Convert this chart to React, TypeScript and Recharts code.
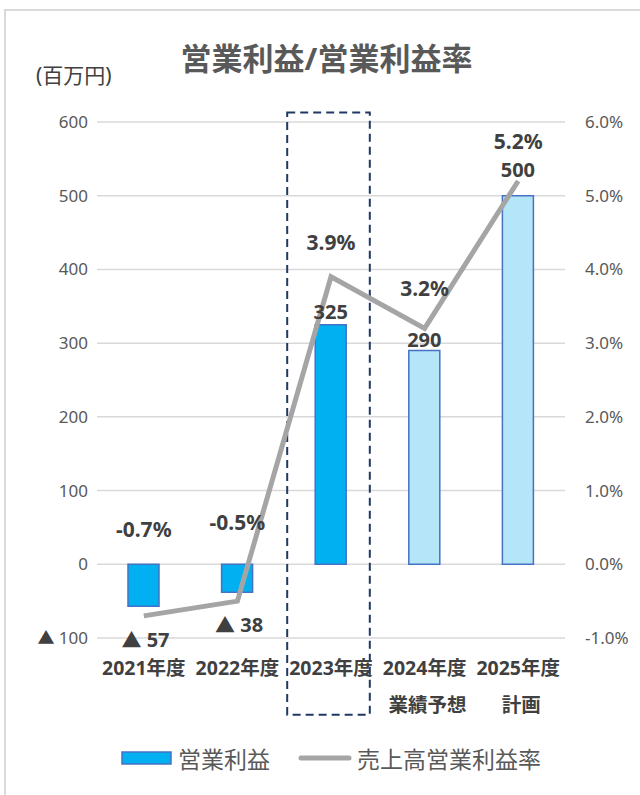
import React from 'react';
import {
  ComposedChart,
  Bar,
  Line,
  XAxis,
  YAxis,
  CartesianGrid,
  Legend,
  LabelList,
  Cell,
  ReferenceArea,
} from 'recharts';

const categories = ['2021年度', '2022年度', '2023年度', '2024年度', '2025年度'];
const subLabels = ['', '', '', '業績予想', '計画'];
const operatingProfit = [-57, -38, 325, 290, 500];
const profitMargin = [-0.7, -0.5, 3.9, 3.2, 5.2];
const leftTicks = [-100, 0, 100, 200, 300, 400, 500, 600];
const rightTicks = [-1, 0, 1, 2, 3, 4, 5, 6];

const data = categories.map((name, i) => ({
  name,
  profit: operatingProfit[i],
  margin: profitMargin[i],
}));

const FONT = "'Noto Sans', 'Noto Sans CJK JP', sans-serif";
const CJK = "'Noto Sans CJK JP', sans-serif";
const barFills = ['#00B0F0', '#00B0F0', '#00B0F0', '#B4E5F8', '#B4E5F8'];
// label offsets (px) from the bar end / line point, tuned by eye
const barLabelDy = [33, 32, -13, -11, -26];
const lineLabelDy = [-87, -79, -35, -40, -40];

const XTick = (props: any) => {
  const { x, y, payload } = props;
  const i = categories.indexOf(payload.value);
  return (
    <g>
      <text x={x} y={y + 37} textAnchor="middle" fontSize={19.5} fontWeight={700} fill="#404040" fontFamily={FONT}>
        {payload.value}
      </text>
      {subLabels[i] ? (
        <text x={x + 3} y={y + 74} textAnchor="middle" fontSize={19.5} fontWeight={700} fill="#404040" fontFamily={FONT}>
          {subLabels[i]}
        </text>
      ) : null}
    </g>
  );
};

const LeftTick = (props: any) => {
  const { x, y, payload } = props;
  const v = Number(payload.value);
  return (
    <text x={x} y={y} dy={6} textAnchor="end" fontSize={17} fill="#595959" fontFamily={FONT}>
      {v < 0 ? (
        <>
          <tspan fontFamily={CJK} fill="#404040">▲</tspan>
          <tspan> {-v}</tspan>
        </>
      ) : (
        v
      )}
    </text>
  );
};

const BarLabel = (props: any) => {
  const x = Number(props.x);
  const y = Number(props.y);
  const w = Number(props.width);
  const h = Number(props.height);
  const v = Number(props.value);
  const top = Math.min(y, y + h);
  const bottom = Math.max(y, y + h);
  const anchor = v < 0 ? bottom : top;
  return (
    <text
      x={x + w / 2 + (v < 0 ? 2 : 0)}
      y={anchor + barLabelDy[props.index]}
      textAnchor="middle"
      dominantBaseline="central"
      fontSize={20}
      fontWeight={700}
      fill="#404040"
      fontFamily={FONT}
    >
      {v < 0 ? (
        <>
          <tspan fontFamily={CJK}>▲</tspan>
          <tspan> {-v}</tspan>
        </>
      ) : (
        v
      )}
    </text>
  );
};

const LineLabel = (props: any) => {
  const v = Number(props.value);
  return (
    <text
      x={Number(props.x)}
      y={Number(props.y) + lineLabelDy[props.index]}
      textAnchor="middle"
      dominantBaseline="central"
      fontSize={21}
      fontWeight={700}
      fill="#404040"
      fontFamily={FONT}
    >
      {v.toFixed(1)}%
    </text>
  );
};

const BoxShape = (props: any) => {
  const { x, y, width, height } = props;
  return (
    <rect
      x={x + 3}
      y={y}
      width={width - 11}
      height={height}
      fill="none"
      stroke="#1F3864"
      strokeWidth={2}
      strokeDasharray="8 5"
    />
  );
};

const renderLegend = () => (
  <div style={{ height: 36, display: 'flex', alignItems: 'center', fontFamily: FONT }}>
    <svg width={52} height={16}>
      <rect x={1} y={2} width={49} height={12} fill="#00B0F0" stroke="#4472C4" strokeWidth={1.5} />
    </svg>
    <span style={{ marginLeft: 5, fontSize: 23, color: '#595959' }}>営業利益</span>
    <svg width={54} height={16} style={{ marginLeft: 28 }}>
      <line x1={3} y1={8} x2={51} y2={8} stroke="#A5A5A5" strokeWidth={5} strokeLinecap="round" />
    </svg>
    <span style={{ marginLeft: 5, fontSize: 23, color: '#595959' }}>売上高営業利益率</span>
  </div>
);

export default function App() {
  return (
    <div
      style={{
        position: 'absolute',
        left: 0,
        top: 0,
        width: 640,
        height: 795,
        overflow: 'hidden',
        background: '#fff',
        fontFamily: FONT,
      }}
    >
      <div
        style={{
          position: 'absolute',
          left: 4,
          top: 9,
          width: 700,
          height: 820,
          borderTop: '2px solid #D9D9D9',
          borderLeft: '2px solid #D9D9D9',
        }}
      />
      <div
        style={{
          position: 'absolute',
          left: 0,
          top: 40,
          width: 653,
          textAlign: 'center',
          fontSize: 31,
          lineHeight: '36px',
          fontWeight: 700,
          color: '#595959',
        }}
      >
        営業利益/営業利益率
      </div>
      <div
        style={{
          position: 'absolute',
          left: 36,
          top: 62,
          fontSize: 21,
          lineHeight: '26px',
          color: '#404040',
        }}
      >
        (百万円)
      </div>
      <ComposedChart
        width={640}
        height={795}
        data={data}
        margin={{ top: 122, right: 0, bottom: 21, left: 0 }}
        style={{ position: 'absolute', left: 0, top: 0 }}
      >
        <CartesianGrid yAxisId="left" vertical={false} stroke="#D9D9D9" strokeWidth={1.5} />
        <XAxis
          dataKey="name"
          height={100}
          axisLine={false}
          tickLine={false}
          tickSize={0}
          tickMargin={0}
          interval={0}
          tick={<XTick />}
        />
        <YAxis
          yAxisId="left"
          width={97}
          domain={[-100, 600]}
          ticks={leftTicks}
          axisLine={false}
          tickLine={false}
          tickSize={0}
          tickMargin={9}
          tick={<LeftTick />}
        />
        <YAxis
          yAxisId="right"
          orientation="right"
          width={75}
          domain={[-1, 6]}
          ticks={rightTicks}
          axisLine={false}
          tickLine={false}
          tickSize={0}
          tickMargin={20}
          tick={{ fontSize: 17, fill: '#595959', fontFamily: FONT, textAnchor: 'start' }}
          tickFormatter={(v: number) => `${v.toFixed(1)}%`}
        />
        <Legend verticalAlign="bottom" content={renderLegend} wrapperStyle={{ top: 740, left: 121, width: 510 }} />
        <Bar yAxisId="left" dataKey="profit" barSize={31} stroke="#4472C4" strokeWidth={1.5} isAnimationActive={false}>
          {data.map((d, i) => (
            <Cell key={d.name} fill={barFills[i]} />
          ))}
          <LabelList dataKey="profit" content={<BarLabel />} />
        </Bar>
        <Line
          yAxisId="right"
          dataKey="margin"
          stroke="#A5A5A5"
          strokeWidth={5}
          dot={false}
          activeDot={false}
          isAnimationActive={false}
        >
          <LabelList dataKey="margin" content={<LineLabel />} />
        </Line>
        <ReferenceArea
          yAxisId="left"
          x1="2023年度"
          x2="2023年度"
          y1={-204}
          y2={613}
          ifOverflow="visible"
          shape={<BoxShape />}
        />
      </ComposedChart>
    </div>
  );
}
